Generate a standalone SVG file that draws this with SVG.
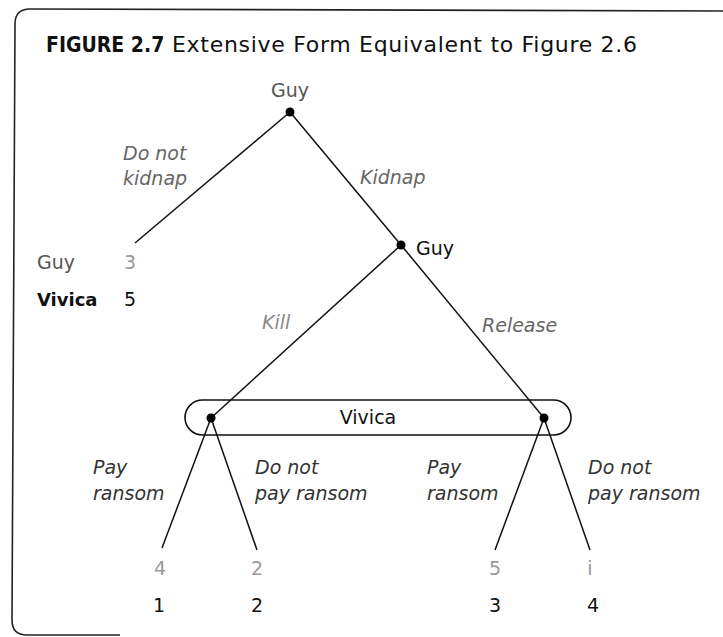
<svg xmlns="http://www.w3.org/2000/svg" width="723" height="637" viewBox="0 0 723 637">
<style>
  text { font-family: "DejaVu Sans", "Liberation Sans", sans-serif; }
  .title { font-size: 22px; fill: #111; }
  .fig { font-family: "DejaVu Sans Condensed", "DejaVu Sans", sans-serif; font-weight: bold; font-size: 21px; fill: #111; }
  .lbl { font-size: 19px; font-style: italic; fill: #666; }
  .lbd { font-size: 19px; font-style: italic; fill: #333; }
  .pl { font-size: 19px; fill: #111; }
  .plg { font-size: 19px; fill: #555; }
  .plb { font-size: 18px; font-weight: bold; fill: #111; }
  .pay1 { font-size: 19px; fill: #999; text-anchor: middle; }
  .pay2 { font-size: 19px; fill: #111; text-anchor: middle; }
  .edge { stroke: #111; stroke-width: 1.5; fill: none; }
  .dot { fill: #000; }
  .frame { stroke: #222; stroke-width: 1.6; fill: none; }
  .info { stroke: #111; stroke-width: 1.6; fill: none; }
</style>
<path class="frame" d="M723 11 L30 9 Q15 9 15 24 L12 620 Q12 635 27 635 L120 635"/>
<text class="fig" x="46" y="52">FIGURE 2.7</text>
<text class="title" x="172" y="52" textLength="465" lengthAdjust="spacing">Extensive Form Equivalent to Figure 2.6</text>

<g id="connectors">
  <line class="edge" x1="290" y1="112" x2="135" y2="243"/>
  <line class="edge" x1="290" y1="112" x2="401" y2="245"/>
  <line class="edge" x1="401" y1="245" x2="211" y2="418"/>
  <line class="edge" x1="401" y1="245" x2="544" y2="418"/>
  <line class="edge" x1="211" y1="418" x2="162" y2="548"/>
  <line class="edge" x1="211" y1="418" x2="257" y2="550"/>
  <line class="edge" x1="544" y1="418" x2="495" y2="550"/>
  <line class="edge" x1="544" y1="418" x2="590" y2="550"/>
  <text class="lbl" x="123" y="160">Do not</text>
  <text class="lbl" x="123" y="185">kidnap</text>
  <text class="lbl" x="360" y="184">Kidnap</text>
  <text class="lbl" x="262" y="329" style="fill:#888">Kill</text>
  <text class="lbl" x="482" y="332">Release</text>
  <text class="lbd" x="93" y="474">Pay</text>
  <text class="lbd" x="93" y="500">ransom</text>
  <text class="lbd" x="255" y="474">Do not</text>
  <text class="lbd" x="255" y="500">pay ransom</text>
  <text class="lbd" x="427" y="474">Pay</text>
  <text class="lbd" x="427" y="500">ransom</text>
  <text class="lbd" x="588" y="474">Do not</text>
  <text class="lbd" x="588" y="500">pay ransom</text>
</g>

<g id="root">
  <circle class="dot" cx="290" cy="112" r="4.5"/>
  <text class="plg" x="290" y="97" text-anchor="middle">Guy</text>
</g>
<g id="guy2">
  <circle class="dot" cx="401" cy="245" r="4.5"/>
  <text class="pl" x="416" y="255">Guy</text>
</g>
<g id="leaf-nokidnap">
  <text class="plg" x="37" y="269">Guy</text>
  <text class="pay1" x="130" y="269">3</text>
  <text class="plb" x="37" y="306">Vivica</text>
  <text class="pay2" x="130" y="306">5</text>
</g>
<g id="vivica-info">
  <rect class="info" x="185" y="400" width="386" height="35" rx="17.5" ry="17.5"/>
  <text class="pl" x="368" y="424" text-anchor="middle">Vivica</text>
  <circle class="dot" cx="211" cy="418" r="4.5"/>
  <circle class="dot" cx="544" cy="418" r="4.5"/>
</g>
<g id="leaf1">
  <text class="pay1" x="160" y="575">4</text>
  <text class="pay2" x="159" y="612">1</text>
</g>
<g id="leaf2">
  <text class="pay1" x="257" y="575">2</text>
  <text class="pay2" x="257" y="612">2</text>
</g>
<g id="leaf3">
  <text class="pay1" x="495" y="575">5</text>
  <text class="pay2" x="495" y="612">3</text>
</g>
<g id="leaf4">
  <text class="pay1" x="590" y="575">i</text>
  <text class="pay2" x="593" y="612">4</text>
</g>
</svg>
